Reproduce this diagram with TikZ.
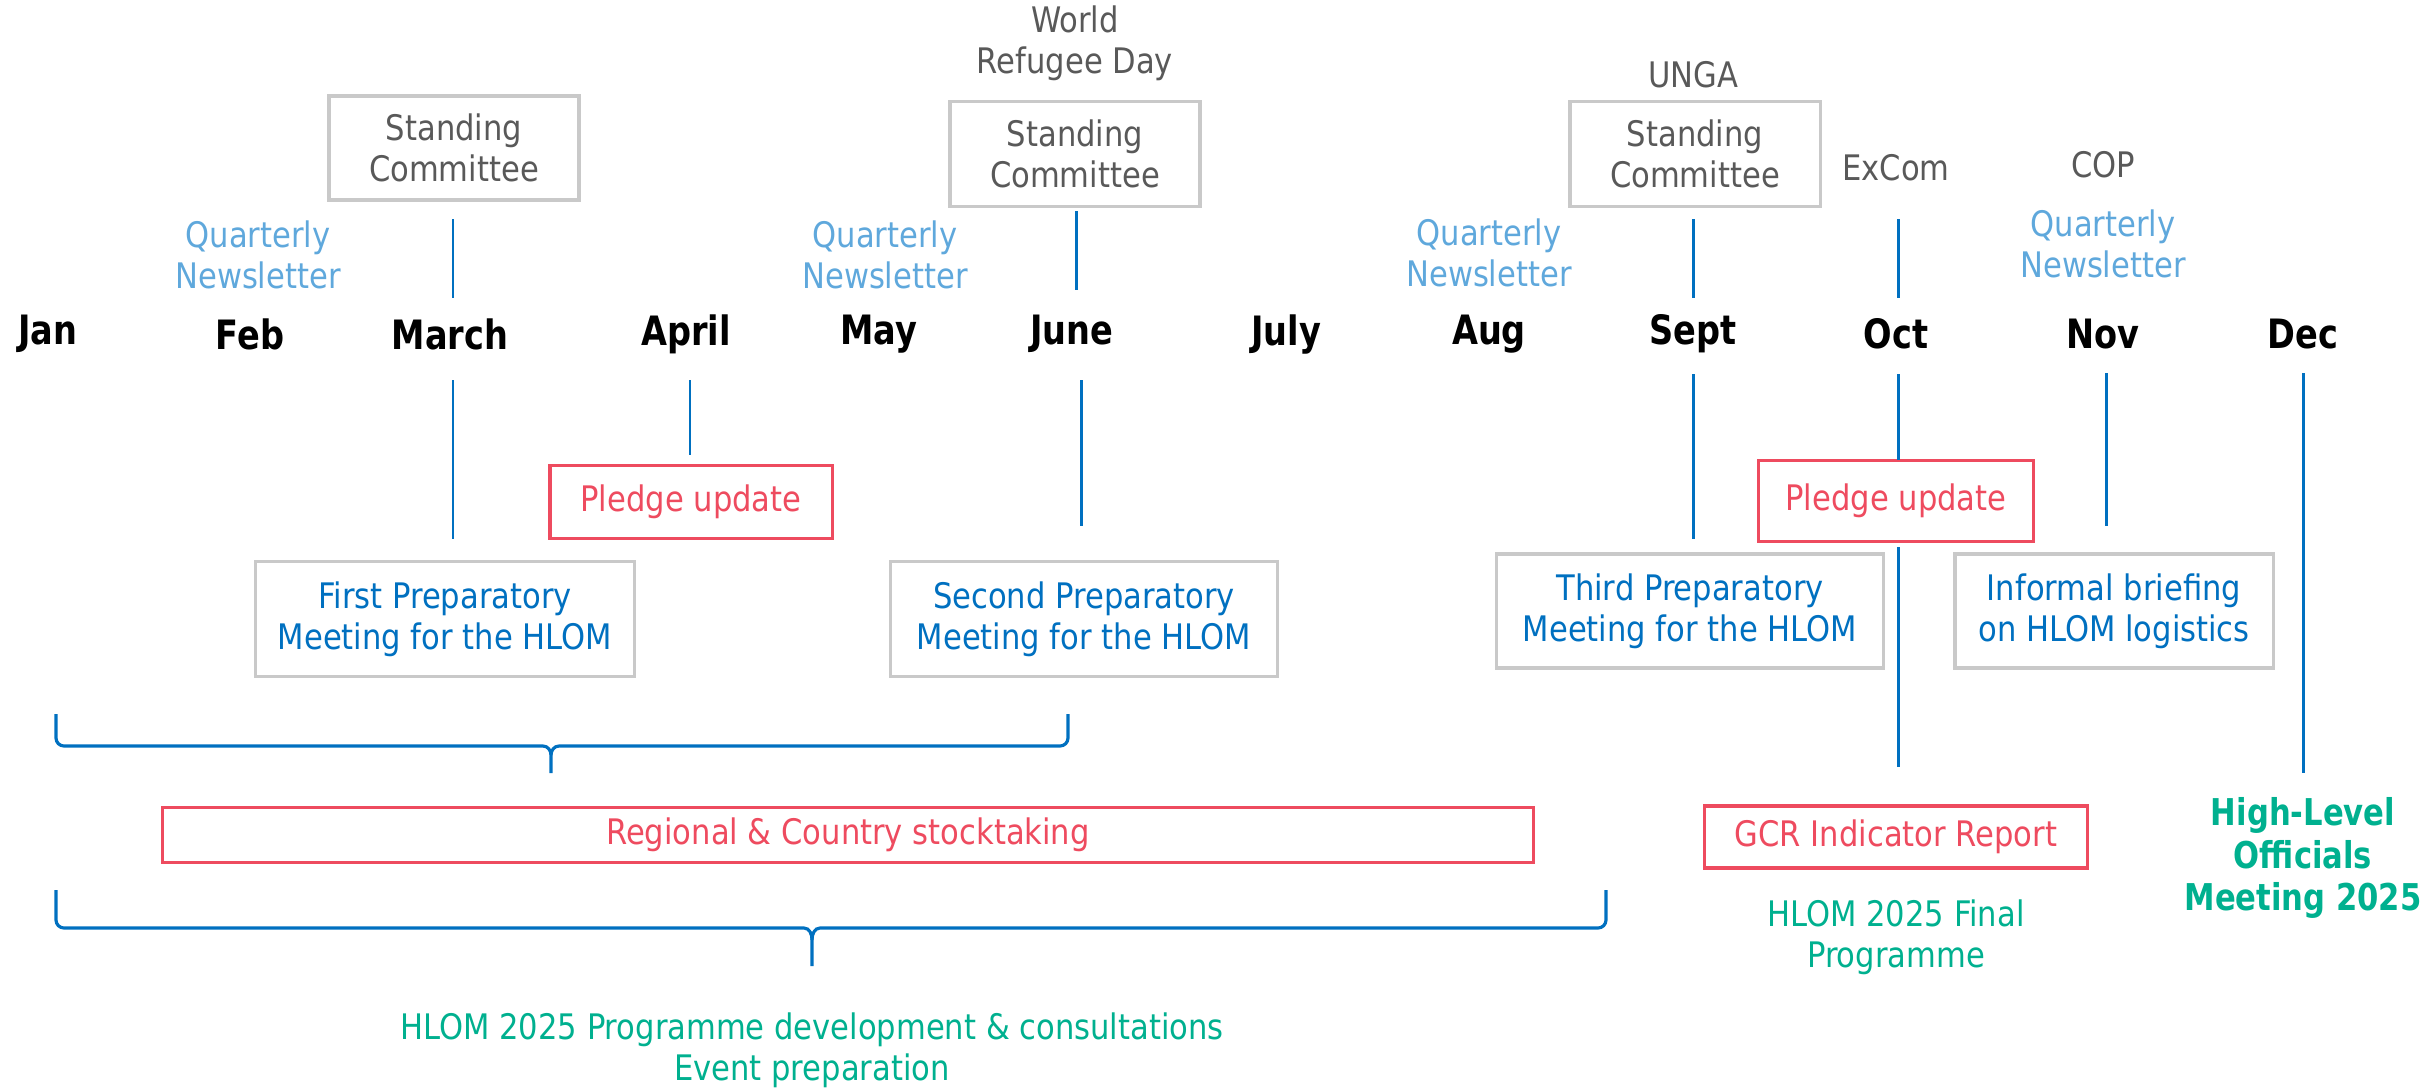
\documentclass[tikz,border=0pt]{standalone}
\usepackage{fontspec}
\usetikzlibrary{calc}
\setmainfont{DejaVu Sans}[FakeStretch=0.87]
\newfontfamily\monthfont{DejaVu Sans}[FakeStretch=0.83]
\definecolor{graytext}{HTML}{595959}
\definecolor{boxgray}{HTML}{C9C9C9}
\definecolor{lblue}{HTML}{5FA8DC}
\definecolor{dblue}{HTML}{0070C0}
\definecolor{redc}{HTML}{EE4B5F}
\definecolor{greenc}{HTML}{00B08F}
\begin{document}
\begin{tikzpicture}[x=0.01cm,y=-0.01cm,
  every node/.style={font=\fontsize{10}{11.6}\selectfont, align=center, inner sep=0pt},
  month/.style={font=\monthfont\fontsize{11.5}{13}\selectfont\bfseries, text=black},
  gtext/.style={text=graytext},
  qtext/.style={text=lblue},
  gbox/.style={draw=boxgray, line width=0.9pt, text=graytext},
  bbox/.style={draw=boxgray, line width=0.9pt, text=dblue},
  rbox/.style={draw=redc, line width=0.9pt, text=redc},
  vline/.style={draw=dblue, line width=0.85pt},
  brace/.style={draw=dblue, line width=0.9pt},
  gtxt/.style={text=greenc}]
\useasboundingbox (0,0) rectangle (2435,1090);

% months
\node[month] (jan) at (48,334) {Jan};
\node[month] (feb) at (250,334) {Feb};
\node[month] (mar) at (450,334) {March};
\node[month] (apr) at (686,334) {April};
\node[month] (may) at (879,334) {May};
\node[month] (jun) at (1072,334) {June};
\node[month] (jul) at (1286,334) {July};
\node[month] (aug) at (1489,334) {Aug};
\node[month] (sep) at (1693,334) {Sept};
\node[month] (oct) at (1896,334) {Oct};
\node[month] (nov) at (2103,334) {Nov};
\node[month] (dec) at (2303,334) {Dec};

% top events
\node[gbox, minimum width=2.50cm, minimum height=1.04cm] (sc1) at (454,148) {Standing\\Committee};
\node[gbox, minimum width=2.50cm, minimum height=1.05cm] (sc2) at (1075,154) {Standing\\Committee};
\node[gbox, minimum width=2.50cm, minimum height=1.05cm] (sc3) at (1695,154) {Standing\\Committee};
\node[gtext] (wrd) at (1075,43) {World\\Refugee Day};
\node[gtext] (unga) at (1693,75) {UNGA};
\node[gtext] (excom) at (1896,168) {ExCom};
\node[gtext] (cop) at (2103,165) {COP};

\node[qtext] (qn1) at (258,255) {Quarterly\\Newsletter};
\node[qtext] (qn2) at (885,255) {Quarterly\\Newsletter};
\node[qtext] (qn3) at (1489,253) {Quarterly\\Newsletter};
\node[qtext] (qn4) at (2103,244) {Quarterly\\Newsletter};

% upper vertical lines
\coordinate (ua1) at (453,219); \coordinate (ub1) at (453,298);
\coordinate (ua2) at (1076,211); \coordinate (ub2) at (1076,290);
\coordinate (ua3) at (1693,219); \coordinate (ub3) at (1693,298);
\coordinate (ua4) at (1898,219); \coordinate (ub4) at (1898,298);
\draw[vline] (ua1) -- (ub1);
\draw[vline] (ua2) -- (ub2);
\draw[vline] (ua3) -- (ub3);
\draw[vline] (ua4) -- (ub4);

% lower boxes
\node[rbox, minimum width=2.82cm, minimum height=0.73cm] (pl1) at (691,502) {Pledge update};
\node[rbox, minimum width=2.75cm, minimum height=0.81cm] (pl2) at (1896,501) {Pledge update};
\node[bbox, minimum width=3.79cm, minimum height=1.15cm] (p1) at (445,619) {First Preparatory\\Meeting for the HLOM};
\node[bbox, minimum width=3.86cm, minimum height=1.15cm] (p2) at (1084,619) {Second Preparatory\\Meeting for the HLOM};
\node[bbox, minimum width=3.87cm, minimum height=1.14cm] (p3) at (1690,611) {Third Preparatory\\Meeting for the HLOM};
\node[bbox, minimum width=3.18cm, minimum height=1.14cm] (ib) at (2114,611) {Informal briefing\\on HLOM logistics};
\node[rbox, minimum width=13.70cm, minimum height=0.55cm] (reg) at (848,835) {Regional \& Country stocktaking};
\node[rbox, minimum width=3.82cm, minimum height=0.62cm] (gcr) at (1896,837) {GCR Indicator Report};
\node[gtxt] (fin) at (1896,937) {HLOM 2025 Final\\Programme};
\node[gtxt, font=\monthfont\fontsize{10.5}{12}\selectfont\bfseries] (hlom) at (2303,858) {High-Level\\Officials\\Meeting 2025};
\node[gtxt] (dev) at (812,1050) {HLOM 2025 Programme development \& consultations\\Event preparation};

% lower vertical lines
\coordinate (la1) at (453,380); \coordinate (lb1) at (453,539);
\coordinate (la2) at (690,380); \coordinate (lb2) at (690,455);
\coordinate (la3) at (1081,380); \coordinate (lb3) at (1081,526);
\coordinate (la4) at (1693,374); \coordinate (lb4) at (1693,539);
\coordinate (la5) at (1898,374); \coordinate (lb5) at (1898,460);
\coordinate (la6) at (1898,547); \coordinate (lb6) at (1898,767);
\coordinate (la7) at (2106,373); \coordinate (lb7) at (2106,526);
\coordinate (la8) at (2303,373); \coordinate (lb8) at (2303,773);
\foreach \i in {1,...,8} {\draw[vline] (la\i) -- (lb\i);}

% braces
\coordinate (b1l) at (56,714); \coordinate (b1r) at (1068,714); \coordinate (b1t) at (551,773);
\draw[brace] (b1l) -- ++(0,24) to[out=-90,in=180] ++(8,8) -- ($(b1t)+(-8,-27)$) to[out=0,in=90] ($(b1t)+(0,-18)$) -- (b1t);
\draw[brace] (b1r) -- ++(0,24) to[out=-90,in=0] ++(-8,8) -- ($(b1t)+(8,-27)$) to[out=180,in=90] ($(b1t)+(0,-18)$);
\coordinate (b2l) at (56,890); \coordinate (b2r) at (1606,890); \coordinate (b2t) at (812,966);
\draw[brace] (b2l) -- ++(0,30) to[out=-90,in=180] ++(8,8) -- ($(b2t)+(-8,-38)$) to[out=0,in=90] ($(b2t)+(0,-26)$) -- (b2t);
\draw[brace] (b2r) -- ++(0,30) to[out=-90,in=0] ++(-8,8) -- ($(b2t)+(8,-38)$) to[out=180,in=90] ($(b2t)+(0,-26)$);
\end{tikzpicture}
\end{document}
